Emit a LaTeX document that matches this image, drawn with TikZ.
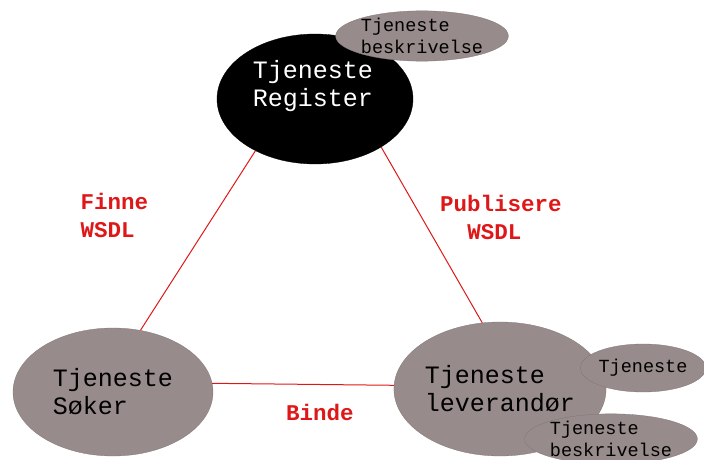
\documentclass[tikz,border=0pt]{standalone}
\usepackage{fontspec}
\setmainfont{Liberation Mono}
\usetikzlibrary{shapes.geometric}

\definecolor{boxgrey}{RGB}{151,139,139}
\definecolor{linkred}{RGB}{222,24,24}

\begin{document}
\begin{tikzpicture}[x=1pt,y=-1pt,
  party/.style={ellipse,fill=boxgrey,draw=boxgrey!85!black,line width=0.3pt,inner sep=0pt,align=left,font=\fontsize{25}{28}\selectfont},
  note/.style={party,font=\fontsize{18.5}{22}\selectfont},
  link/.style={draw=linkred,line width=1pt},
  linklabel/.style={text=linkred,align=left,font=\bfseries\fontsize{22.5}{28}\selectfont}]

\useasboundingbox (0,0) rectangle (704,460);

% connectors
\node [party,minimum width=196,minimum height=130,fill=black,draw=black] (reg) at (315,99) {};
\node [party,minimum width=200,minimum height=128] (soker) at (113,392) {Tjeneste\\S{\o}ker};
\node [party,minimum width=200,minimum height=134] (lev) at (500,389) {Tjeneste\\leverand{\o}r};

\draw [link] (reg.221) -- (soker.66);
\draw [link] (reg.324) -- (lev.105);
\draw [link] (soker.5) -- (lev.178);

\node [text=white,align=left,font=\fontsize{25}{28}\selectfont] (regtext) at (313,86) {Tjeneste\\Register};

% descriptions
\node [note,minimum width=168,minimum height=50] (regnote) at (422,36) {Tjeneste\\beskrivelse};
\node [note,minimum width=122,minimum height=48] (levservice) at (643,368) {Tjeneste};
\node [note,minimum width=168,minimum height=50] (levnote) at (611,439) {Tjeneste\\beskrivelse};

% labels
\node [linklabel,anchor=west] (finne) at (77,215) {Finne\\WSDL};
\node [linklabel] (publisere) at (501,217) {Publisere\\\phantom{Pu}WSDL};
\node [linklabel] (binde) at (320,412) {Binde};

\end{tikzpicture}
\end{document}
